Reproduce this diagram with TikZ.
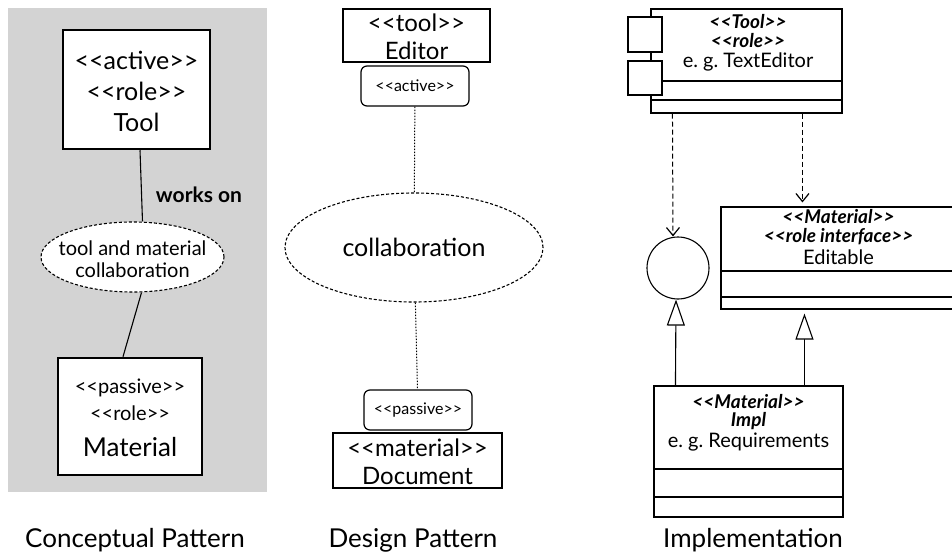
\documentclass[tikz,border=0pt]{standalone}
\usepackage{fontspec}
\setmainfont{Lato}[Ligatures=TeXOff]
\frenchspacing
\usetikzlibrary{arrows.meta,shapes.geometric,calc}
\definecolor{bggray}{RGB}{211,211,211}
\begin{document}
\begin{tikzpicture}[x=1pt,y=-1pt,
  fs/.style={font=\fontsize{#1}{#1}\selectfont},
  bi/.style={font=\bfseries\itshape\fontsize{#1}{#1}\selectfont},
  txt/.style={inner sep=0pt,anchor=center},
  thickbox/.style={draw,line width=2.5pt,fill=white,inner sep=0pt},
  midbox/.style={draw,line width=1.4pt,fill=white,inner sep=0pt},
  classbox/.style={draw,line width=1.1pt,fill=white,inner sep=0pt},
  rbox/.style={draw,line width=1.2pt,fill=white,inner sep=0pt,rounded corners=6pt},
  collab/.style={draw,ellipse,line width=1.1pt,fill=white,inner sep=0pt,dash pattern=on 3pt off 2pt},
  dotline/.style={line width=1pt,dash pattern=on 1.5pt off 1.5pt},
  dep/.style={line width=1pt,dash pattern=on 5pt off 3pt,-{Straight Barb[length=8pt,width=13pt,line width=1.2pt]}},
  gen/.style={line width=1.1pt,-{Triangle[open,length=26pt,width=18pt,fill=white,line width=1.1pt]}}
]
\useasboundingbox (0,0) rectangle (952,559);
% ---------- left: conceptual pattern ----------
\fill[bggray] (8,8) rectangle (267,492);
\node[thickbox,minimum width=147pt,minimum height=119pt] (tool) at (136.5,89.5) {};
\node[txt,fs=25] (t1) at (136.5,60) {<<active>>};
\node[txt,fs=25] (t2) at (136.5,91) {<<role>>};
\node[txt,fs=25] (t3) at (136.5,122) {Tool};
\node[collab,minimum width=183pt,minimum height=70pt] (ell1) at (132.5,257) {};
\node[txt,fs=20] (e1a) at (132.5,248) {tool and material};
\node[txt,fs=20] (e1b) at (132.5,270) {collaboration};
\node[thickbox,minimum width=144pt,minimum height=117pt] (mat) at (130,416.5) {};
\node[txt,fs=20] (m1) at (130,388) {<<passive>>};
\node[txt,fs=20] (m2) at (130,413) {<<role>>};
\node[txt,fs=26] (m3) at (130,447) {Material};
\draw[line width=1.1pt] ([xshift=3.5pt]tool.south) -- ([xshift=10pt]ell1.north);
\draw[line width=1.1pt] ([xshift=9pt]ell1.south) -- ([xshift=-7pt]mat.north);
\node[txt,font=\bfseries\fontsize{21}{21}\selectfont] (works) at (199,195) {works on};
% ---------- middle: design pattern ----------
\node[midbox,minimum width=147pt,minimum height=53pt] (editor) at (416.5,35.5) {};
\node[txt,fs=24] (ed1) at (416.5,23) {<<tool>>};
\node[txt,fs=24] (ed2) at (416.5,51) {Editor};
\node[rbox,minimum width=108pt,minimum height=40pt] (active) at (415,86) {};
\node[txt,fs=16] (act) at (415,86) {<<active>>};
\node[collab,minimum width=258pt,minimum height=109pt] (ell2) at (414,247.5) {};
\node[txt,fs=25] (col) at (414,247.5) {collaboration};
\node[rbox,minimum width=108pt,minimum height=40pt] (passive) at (418,410) {};
\node[txt,fs=16] (pas) at (418,410) {<<passive>>};
\node[midbox,minimum width=169pt,minimum height=55pt] (doc) at (417.5,460.5) {};
\node[txt,fs=24] (d1) at (417.5,448) {<<material>>};
\node[txt,fs=24] (d2) at (417.5,476) {Document};
\draw[dotline] (active) -- (ell2);
\draw[dotline] (ell2) -- (passive);
% ---------- right: implementation ----------
\node[classbox,minimum width=191pt,minimum height=104pt] (toolc) at (746.5,61) {};
\draw[line width=1.1pt] (651,81) -- (842,81);
\draw[line width=1.1pt] (651,100) -- (842,100);
\draw[classbox] (628,17) rectangle (662,52);
\draw[classbox] (628,61) rectangle (662,95);
\node[txt,bi=19] (tc1) at (748,22) {<<Tool>>};
\node[txt,bi=19] (tc2) at (748,41) {<<role>>};
\node[txt,fs=20] (tc3) at (748,62) {e. g. TextEditor};

\node[classbox,minimum width=235pt,minimum height=102pt] (intf) at (838.5,258) {};
\draw[line width=1.1pt] (721,271) -- (956,271);
\draw[line width=1.1pt] (721,297) -- (956,297);
\node[txt,bi=19] (if1) at (838.5,217) {<<Material>>};
\node[txt,bi=19] (if2) at (838.5,237) {<<role interface>>};
\node[txt,fs=20] (if3) at (838.5,257) {Editable};

\node[draw,circle,line width=1.1pt,minimum size=62pt,inner sep=0pt] (circ) at (678,268) {};

\node[classbox,minimum width=189pt,minimum height=131pt] (impl) at (748.5,451.5) {};
\draw[line width=1.1pt] (654,469) -- (843,469);
\draw[line width=1.1pt] (654,497) -- (843,497);
\node[txt,bi=19] (im1) at (748.5,402) {<<Material>>};
\node[txt,bi=19] (im2) at (748.5,421) {Impl};
\node[txt,fs=20] (im3) at (748.5,442) {e. g. Requirements};

\draw[dep] ($(toolc.south west)+(22,0)$) -- ($(circ.north)+(-5,0)$);
\draw[dep] ($(toolc.south west)+(152,0)$) -- ($(intf.north west)+(82,-4)$);
\draw[gen] ($(impl.north west)+(22,0)$) -- ($(circ.south)+(-2,0)$);
\draw[gen] ($(impl.north west)+(151,0)$) -- ($(intf.south west)+(84,4)$);
% ---------- captions ----------
\node[txt,fs=26] (cap1) at (135,540) {Conceptual Pattern};
\node[txt,fs=26] (cap2) at (413,540) {Design Pattern};
\node[txt,fs=26] (cap3) at (753,540) {Implementation};
\end{tikzpicture}
\end{document}
